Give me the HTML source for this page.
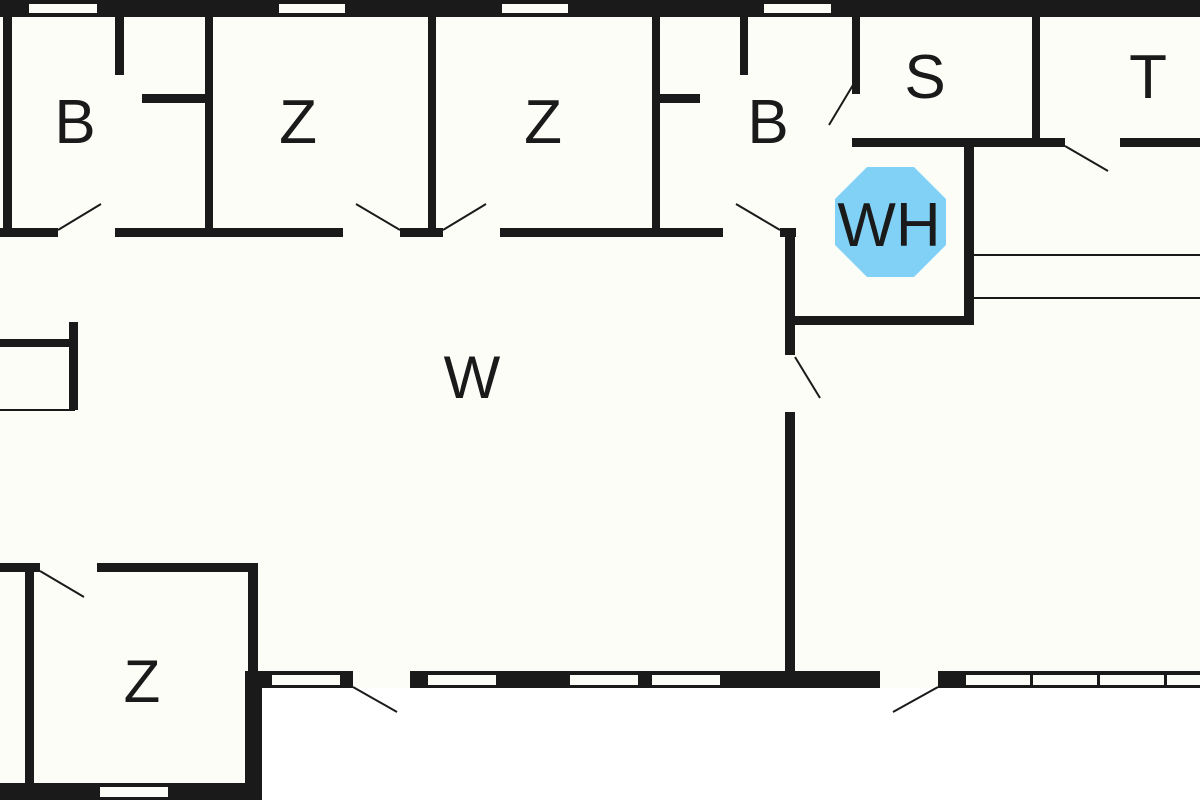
<!DOCTYPE html>
<html><head><meta charset="utf-8"><style>
html,body{margin:0;padding:0;background:#fdfdf8;}
svg{display:block}
text{font-family:"Liberation Sans",sans-serif;fill:#1a1a1a;text-anchor:middle}
</style></head><body>
<svg width="1200" height="800" viewBox="0 0 1200 800" xmlns="http://www.w3.org/2000/svg">
<rect width="1200" height="800" fill="#fdfdf8"/>
<rect x="262" y="688" width="938" height="112" fill="#ffffff"/>
<g fill="#1a1a1a">
<rect x="0" y="0" width="1200" height="17"/>
<rect x="3" y="16" width="9" height="218"/>
<rect x="205" y="16" width="8" height="218"/>
<rect x="428" y="16" width="8" height="218"/>
<rect x="652" y="16" width="8" height="218"/>
<rect x="115" y="16" width="9" height="59"/>
<rect x="142" y="94" width="65" height="9"/>
<rect x="660" y="94" width="40" height="9"/>
<rect x="740" y="16" width="8" height="59"/>
<rect x="852" y="16" width="8" height="78"/>
<rect x="1032" y="16" width="8" height="130"/>
<rect x="852" y="138" width="213" height="9"/>
<rect x="1120" y="138" width="80" height="9"/>
<rect x="0" y="228" width="58" height="9"/>
<rect x="115" y="228" width="228" height="9"/>
<rect x="400" y="228" width="43" height="9"/>
<rect x="500" y="228" width="223" height="9"/>
<rect x="780" y="228" width="16" height="9"/>
<rect x="785" y="228" width="10" height="127"/>
<rect x="785" y="316" width="188" height="9"/>
<rect x="964" y="146" width="10" height="179"/>
<rect x="785" y="412" width="10" height="264"/>
<rect x="0" y="339" width="72" height="8"/>
<rect x="69" y="322" width="9" height="88"/>
<rect x="0" y="563" width="40" height="9"/>
<rect x="97" y="563" width="161" height="9"/>
<rect x="25" y="563" width="9" height="237"/>
<rect x="248" y="563" width="10" height="115"/>
<rect x="245" y="671" width="17" height="129"/>
<rect x="0" y="783" width="262" height="17"/>
<rect x="262" y="671" width="91" height="17"/>
<rect x="410" y="671" width="470" height="17"/>
<rect x="938" y="671" width="262" height="17"/>
</g>
<g fill="#fdfdf8">
<rect x="29" y="4" width="68" height="9"/>
<rect x="279" y="4" width="66" height="9"/>
<rect x="502" y="4" width="66" height="9"/>
<rect x="764" y="4" width="67" height="9"/>
<rect x="100" y="787" width="68" height="10"/>
<rect x="272" y="675" width="68" height="10"/>
<rect x="428" y="675" width="68" height="10"/>
<rect x="570" y="675" width="68" height="10"/>
<rect x="652" y="675" width="68" height="10"/>
<rect x="966" y="675" width="64" height="10"/>
<rect x="1033" y="675" width="64" height="10"/>
<rect x="1100" y="675" width="64" height="10"/>
<rect x="1167" y="675" width="40" height="10"/>
</g>
<g stroke="#1a1a1a" stroke-width="2" fill="none">
<line x1="974" y1="255" x2="1200" y2="255"/>
<line x1="974" y1="298" x2="1200" y2="298"/>
<line x1="0" y1="410" x2="75" y2="410"/>
<line x1="58" y1="230" x2="101" y2="204"/>
<line x1="400" y1="230" x2="356" y2="204"/>
<line x1="443" y1="230" x2="486" y2="204"/>
<line x1="780" y1="230" x2="736" y2="204"/>
<line x1="853" y1="85" x2="829" y2="125"/>
<line x1="1065" y1="146" x2="1108" y2="171"/>
<line x1="795" y1="357" x2="820" y2="398"/>
<line x1="40" y1="571" x2="84" y2="597"/>
<line x1="353" y1="687" x2="397" y2="712"/>
<line x1="938" y1="687" x2="893" y2="712"/>
</g>
<polygon points="867,167 914,167 946,199 946,245 914,277 867,277 835,245 835,199" fill="#80d1f5"/>
<text x="75" y="143" font-size="62">B</text>
<text x="298" y="143" font-size="62">Z</text>
<text x="543" y="143" font-size="62">Z</text>
<text x="768" y="143" font-size="62">B</text>
<text x="925" y="98" font-size="62">S</text>
<text x="1148" y="98" font-size="62">T</text>
<text x="472" y="398" font-size="60">W</text>
<text x="142" y="702" font-size="60">Z</text>
<text x="889" y="246" font-size="62">WH</text>
</svg>
</body></html>
